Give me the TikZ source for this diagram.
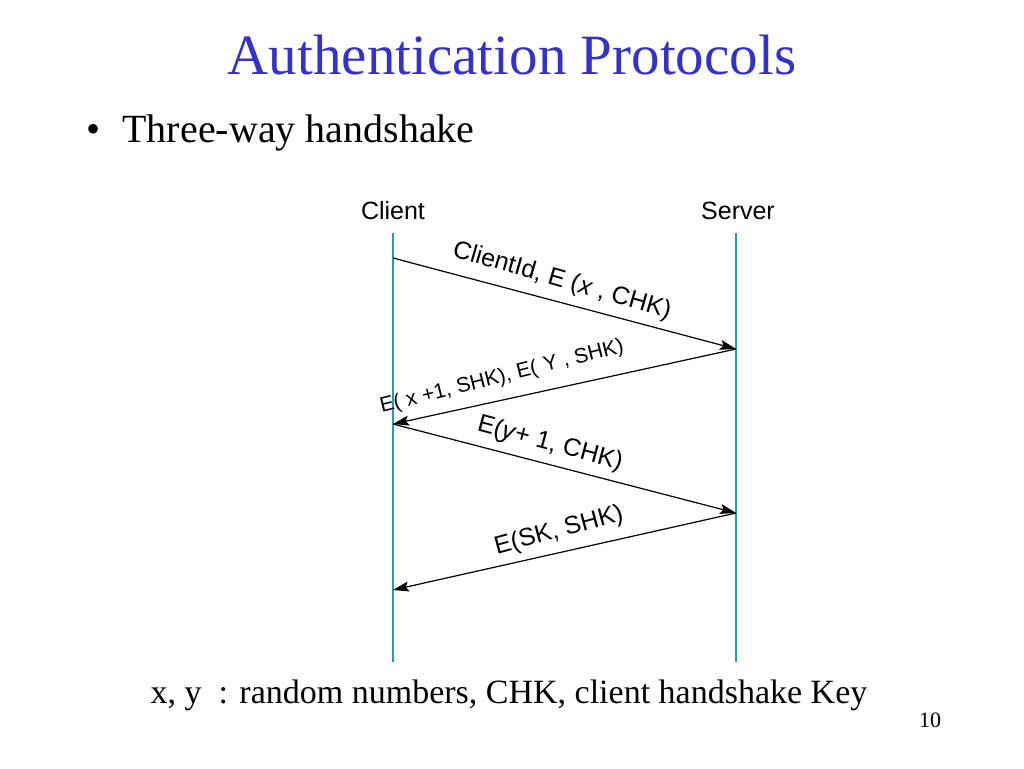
\documentclass[tikz,border=0pt]{standalone}
\usepackage{fontspec}
\setmainfont{Liberation Serif}
\newfontfamily\diagfont{Liberation Sans}
\usetikzlibrary{arrows.meta,positioning}
\definecolor{titleblue}{RGB}{51,51,204}
\definecolor{lifeblue}{RGB}{30,155,200}
\begin{document}
\begin{tikzpicture}[x=1pt,y=-1pt,
  lifeline/.style={draw=lifeblue,line width=2.4pt},
  msg/.style={draw,line width=1.2pt,-{Stealth[length=16pt,width=10pt,inset=3pt]}},
  lbl/.style={font=\diagfont\fontsize{25}{28}\selectfont,inner sep=0pt}]
\useasboundingbox (0,0) rectangle (1024,768);
\node[text=titleblue,font=\fontsize{57}{60}\selectfont] (title) at (512,55) {Authentication Protocols};
\node[anchor=west,font=\fontsize{40}{44}\selectfont] (bullet) at (83,133) {\textbullet\hspace{22pt}Three-way handshake};
\node[lbl] (client) at (393,211) {Client};
\node[lbl] (server) at (738,211) {Server};
\coordinate (ctop) at (393,233);
\coordinate (cbot) at (393,662);
\coordinate (stop) at (736,233);
\coordinate (sbot) at (736,662);
\draw[lifeline] (ctop) -- (cbot);
\draw[lifeline] (stop) -- (sbot);
\coordinate (c1) at (393,258);
\coordinate (s1) at (736,349);
\coordinate (c2) at (393,424);
\coordinate (s2) at (736,513);
\coordinate (c3) at (393,590);
\draw[msg] (c1) -- (s1);
\draw[msg] (s1) -- (c2);
\draw[msg] (c2) -- (s2);
\draw[msg] (s2) -- (c3);
\node[lbl,rotate=-16] (m1) at (562,281) {ClientId, E (\textit{x} , CHK)};
\node[lbl,rotate=14,font=\diagfont\fontsize{21}{24}\selectfont] (m2) at (502,377) {E( x +1, SHK), E(\,\,Y , SHK)};
\node[lbl,rotate=-15] (m3) at (550,444) {E(\textit{y}+ 1, CHK)};
\node[lbl,rotate=15] (m4) at (559,531) {E(SK, SHK)};
\node[font=\fontsize{34}{38}\selectfont] (note) at (509,695) {x, y\ \ : random numbers, CHK, client handshake Key};
\node[font=\fontsize{22}{24}\selectfont] (page) at (930,720) {10};
\end{tikzpicture}
\end{document}
